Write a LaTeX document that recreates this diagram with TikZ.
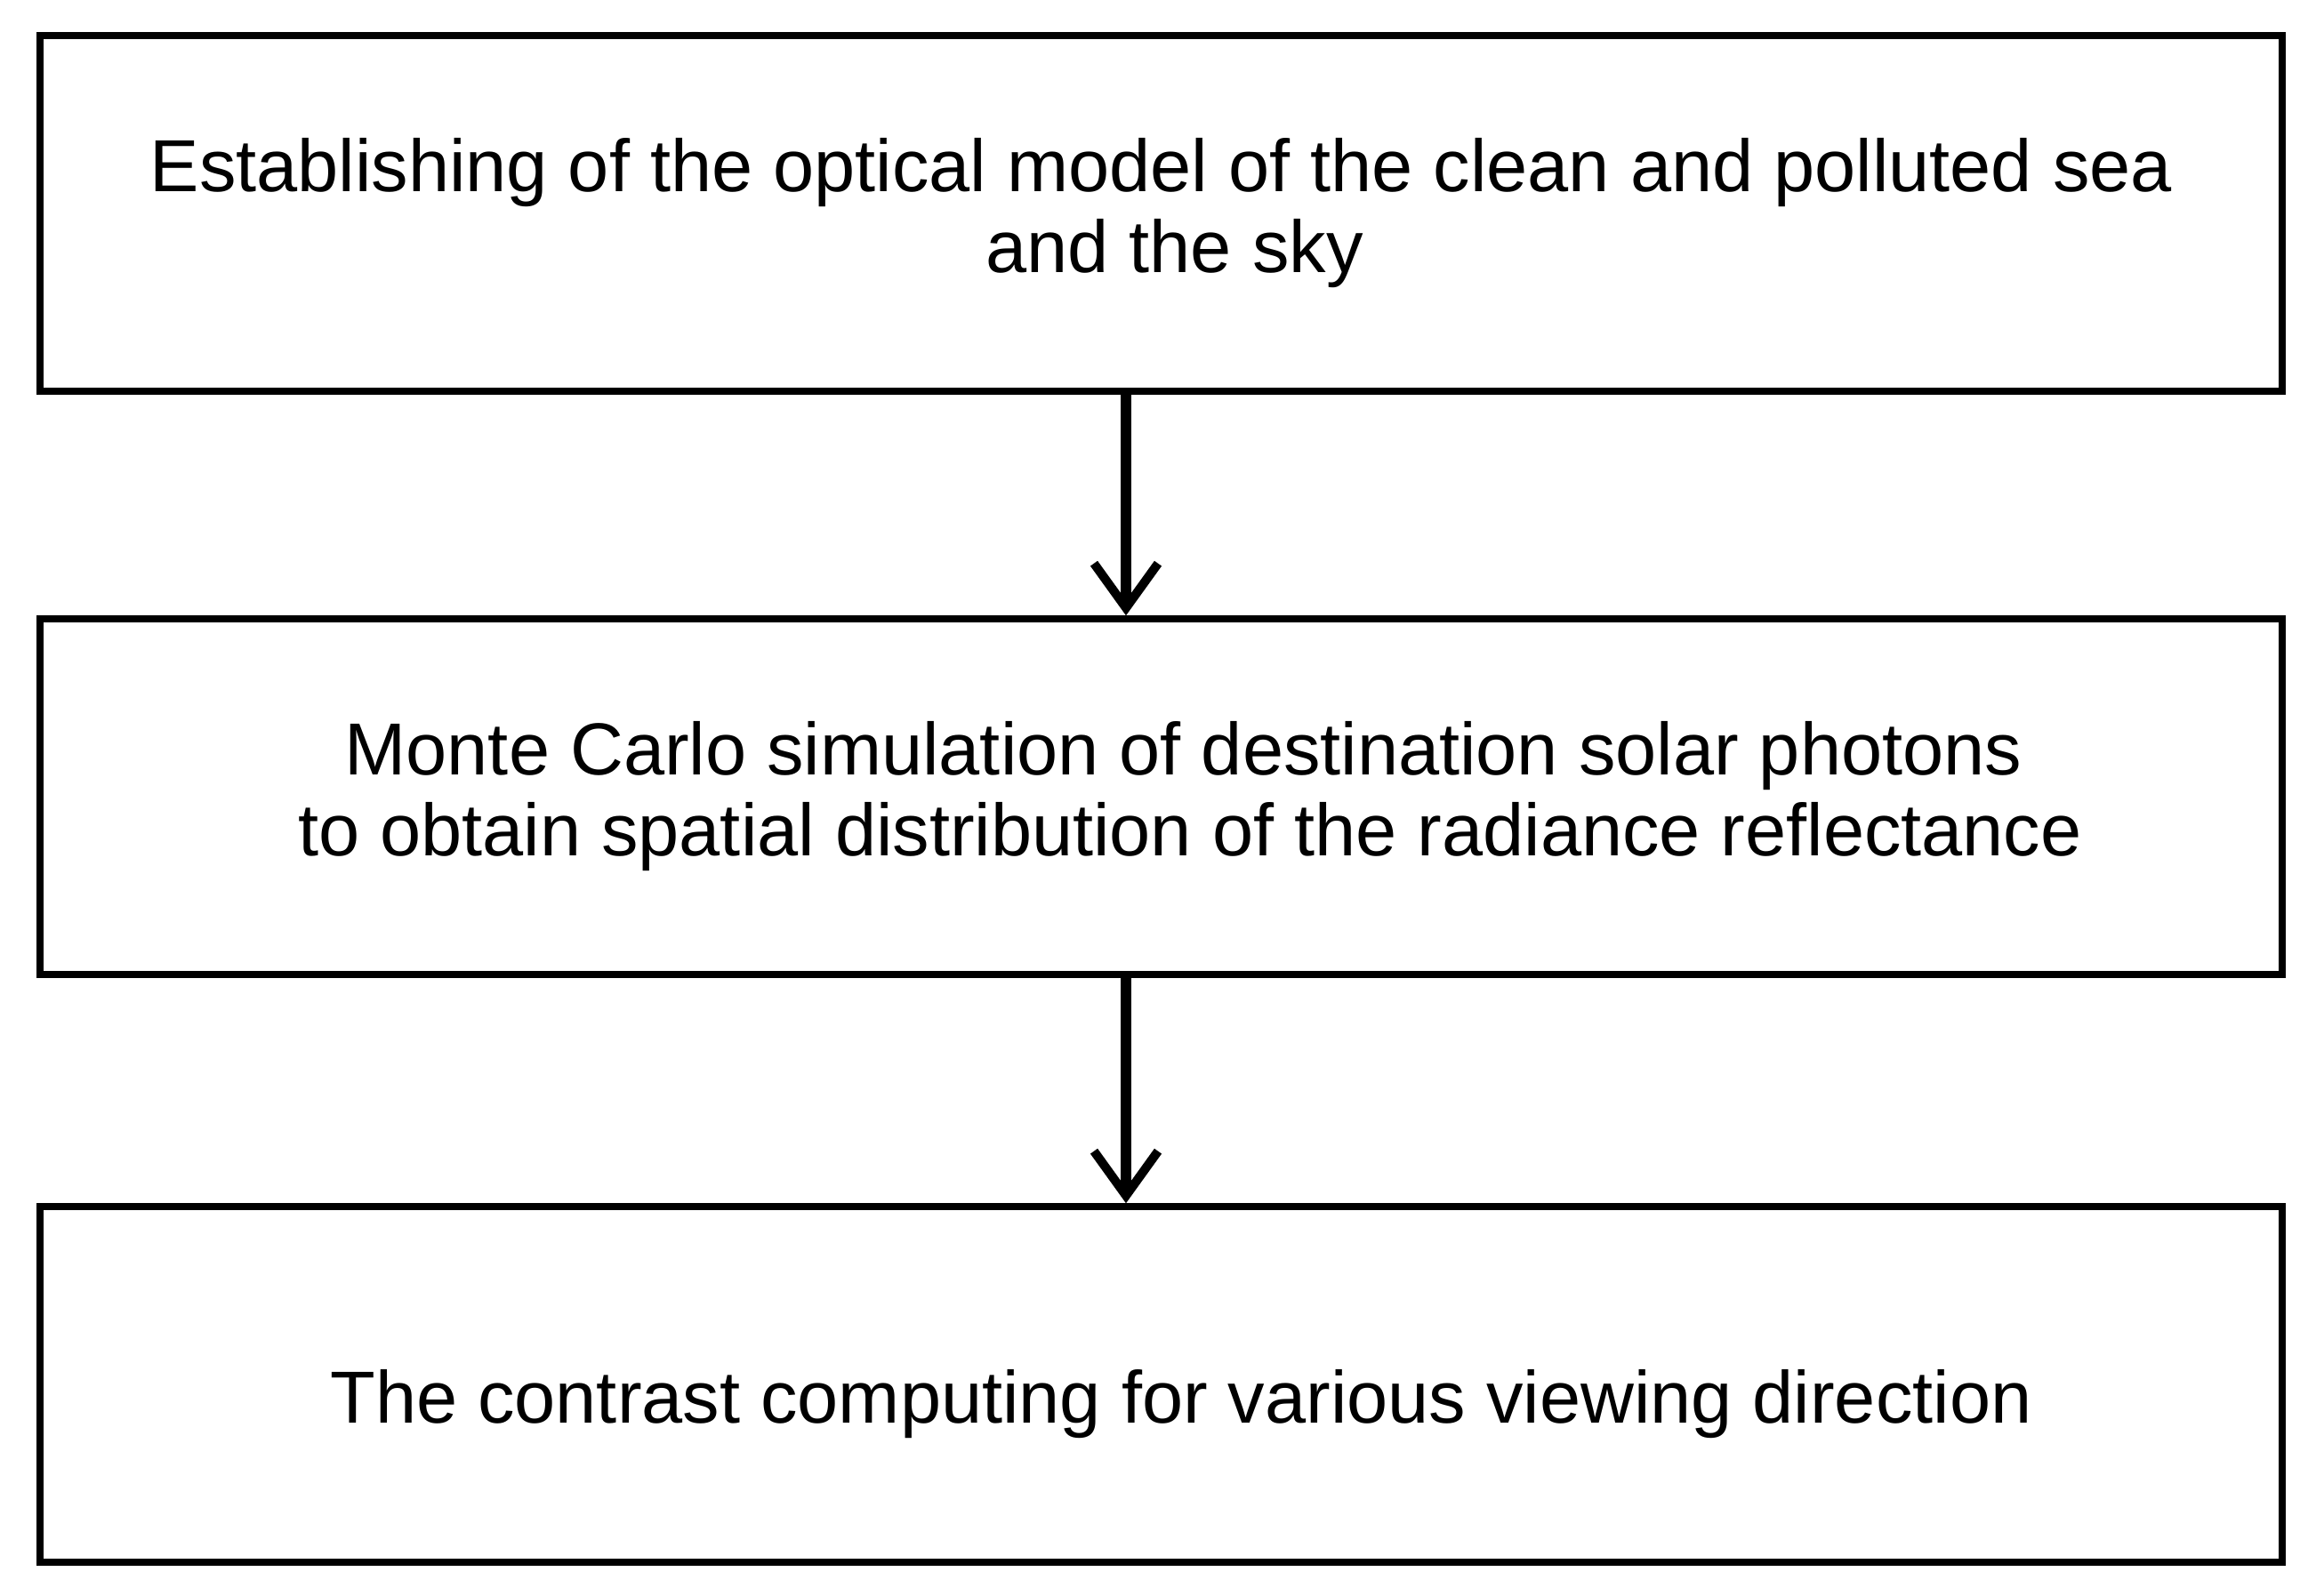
\documentclass[tikz,border=0pt]{standalone}
\usepackage{fontspec}
\setmainfont{Liberation Sans}
\usetikzlibrary{arrows.meta}

\begin{document}
\begin{tikzpicture}[
    stage/.style={draw,line width=0.075cm,minimum width=25.21cm,minimum height=4cm,
        align=center,font=\fontsize{23.6}{25.9}\selectfont},
    flow/.style={line width=0.115cm,-{Straight Barb[length=0.5cm,width=0.72cm,line width=0.1cm]}}]
    \useasboundingbox (0,0) rectangle (26.04,17.94);
    % stages ================================================
    \node[stage] (model)    at (13.055,15.54) {Establishing of the optical model of the clean and polluted sea\\\hspace*{0.3cm}and the sky};
    \node[stage] (MC)       at (13.055,8.98)  {\hspace*{0.5cm}Monte Carlo simulation of destination solar photons\\\hspace*{0.65cm}to obtain spatial distribution of the radiance reflectance};
    \node[stage] (contrast) at (13.055,2.37)  {\raisebox{-0.22cm}[\height][\depth]{\hspace*{0.45cm}The contrast computing for various viewing direction}};
    % flow ==================================================
    \draw[flow] ([xshift=-0.395cm]model.south) -- ([xshift=-0.395cm]MC.north);
    \draw[flow] ([xshift=-0.395cm]MC.south) -- ([xshift=-0.395cm]contrast.north);
\end{tikzpicture}
\end{document}
